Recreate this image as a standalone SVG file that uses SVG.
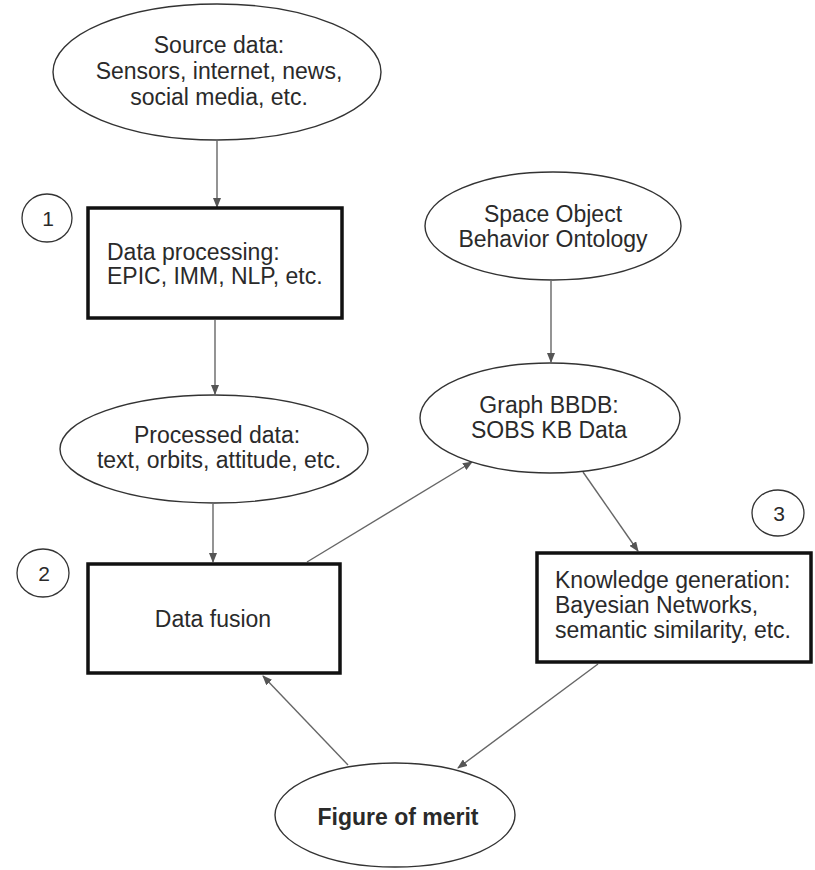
<svg xmlns="http://www.w3.org/2000/svg" width="815" height="870" viewBox="0 0 815 870">
<defs>
<style>
text{font-family:"Liberation Sans",Arial,sans-serif;font-size:23px;fill:#2a2a2a}
.c{text-anchor:middle}
.el{fill:#fff;stroke:#333;stroke-width:1.4}
.bx{fill:#fff;stroke:#111;stroke-width:3.5}
.num{fill:#fff;stroke:#333;stroke-width:1.3}
.ln{stroke:#666;stroke-width:1.4;fill:none;marker-end:url(#ah)}
</style>
<marker id="ah" markerWidth="10" markerHeight="8" refX="9" refY="4" orient="auto" markerUnits="userSpaceOnUse">
<path d="M0,0 L10,4 L0,8 Z" fill="#555"/>
</marker>
</defs>
<rect width="815" height="870" fill="#fff"/>
<g id="connectors">
<line class="ln" x1="217" y1="141" x2="217" y2="207"/>
<line class="ln" x1="215" y1="320" x2="215" y2="394"/>
<line class="ln" x1="213" y1="504" x2="213" y2="562"/>
<line class="ln" x1="307" y1="562" x2="472" y2="462"/>
<line class="ln" x1="551" y1="281" x2="551" y2="362"/>
<line class="ln" x1="583" y1="472" x2="638" y2="551"/>
<line class="ln" x1="598" y1="664" x2="458" y2="768"/>
<line class="ln" x1="348" y1="765" x2="263" y2="676"/>
</g>
<g id="source">
<ellipse class="el" cx="217" cy="72" rx="164" ry="68"/>
<text class="c" x="219" y="53">Source data:</text>
<text class="c" x="219" y="79">Sensors, internet, news,</text>
<text class="c" x="219" y="105">social media, etc.</text>
</g>
<g id="n1">
<ellipse class="num" cx="47" cy="218" rx="25" ry="24"/>
<text class="c" x="48" y="226" style="font-size:21px">1</text>
</g>
<g id="processing">
<rect class="bx" x="88" y="208" width="254" height="110"/>
<text x="107" y="260">Data processing:</text>
<text x="107" y="284">EPIC, IMM, NLP, etc.</text>
</g>
<g id="ontology">
<ellipse class="el" cx="553" cy="226" rx="128" ry="54"/>
<text class="c" x="553" y="222">Space Object</text>
<text class="c" x="553" y="247">Behavior Ontology</text>
</g>
<g id="processed">
<ellipse class="el" cx="214" cy="449" rx="154" ry="54"/>
<text class="c" x="217" y="443">Processed data:</text>
<text class="c" x="219" y="468">text, orbits, attitude, etc.</text>
</g>
<g id="graph">
<ellipse class="el" cx="550" cy="418" rx="130" ry="55"/>
<text class="c" x="549" y="413">Graph BBDB:</text>
<text class="c" x="549" y="438">SOBS KB Data</text>
</g>
<g id="n2">
<ellipse class="num" cx="43" cy="573" rx="26" ry="24"/>
<text class="c" x="44" y="581" style="font-size:21px">2</text>
</g>
<g id="fusion">
<rect class="bx" x="88" y="564" width="252" height="109"/>
<text class="c" x="213" y="627">Data fusion</text>
</g>
<g id="n3">
<ellipse class="num" cx="778" cy="513" rx="26" ry="23"/>
<text class="c" x="779" y="521" style="font-size:21px">3</text>
</g>
<g id="knowledge">
<rect class="bx" x="537" y="553" width="274" height="109"/>
<text x="555" y="588">Knowledge generation:</text>
<text x="555" y="613">Bayesian Networks,</text>
<text x="555" y="638">semantic similarity, etc.</text>
</g>
<g id="merit">
<ellipse class="el" cx="395" cy="815" rx="120" ry="52"/>
<text class="c" x="398" y="825" style="font-weight:bold">Figure of merit</text>
</g>
</svg>
